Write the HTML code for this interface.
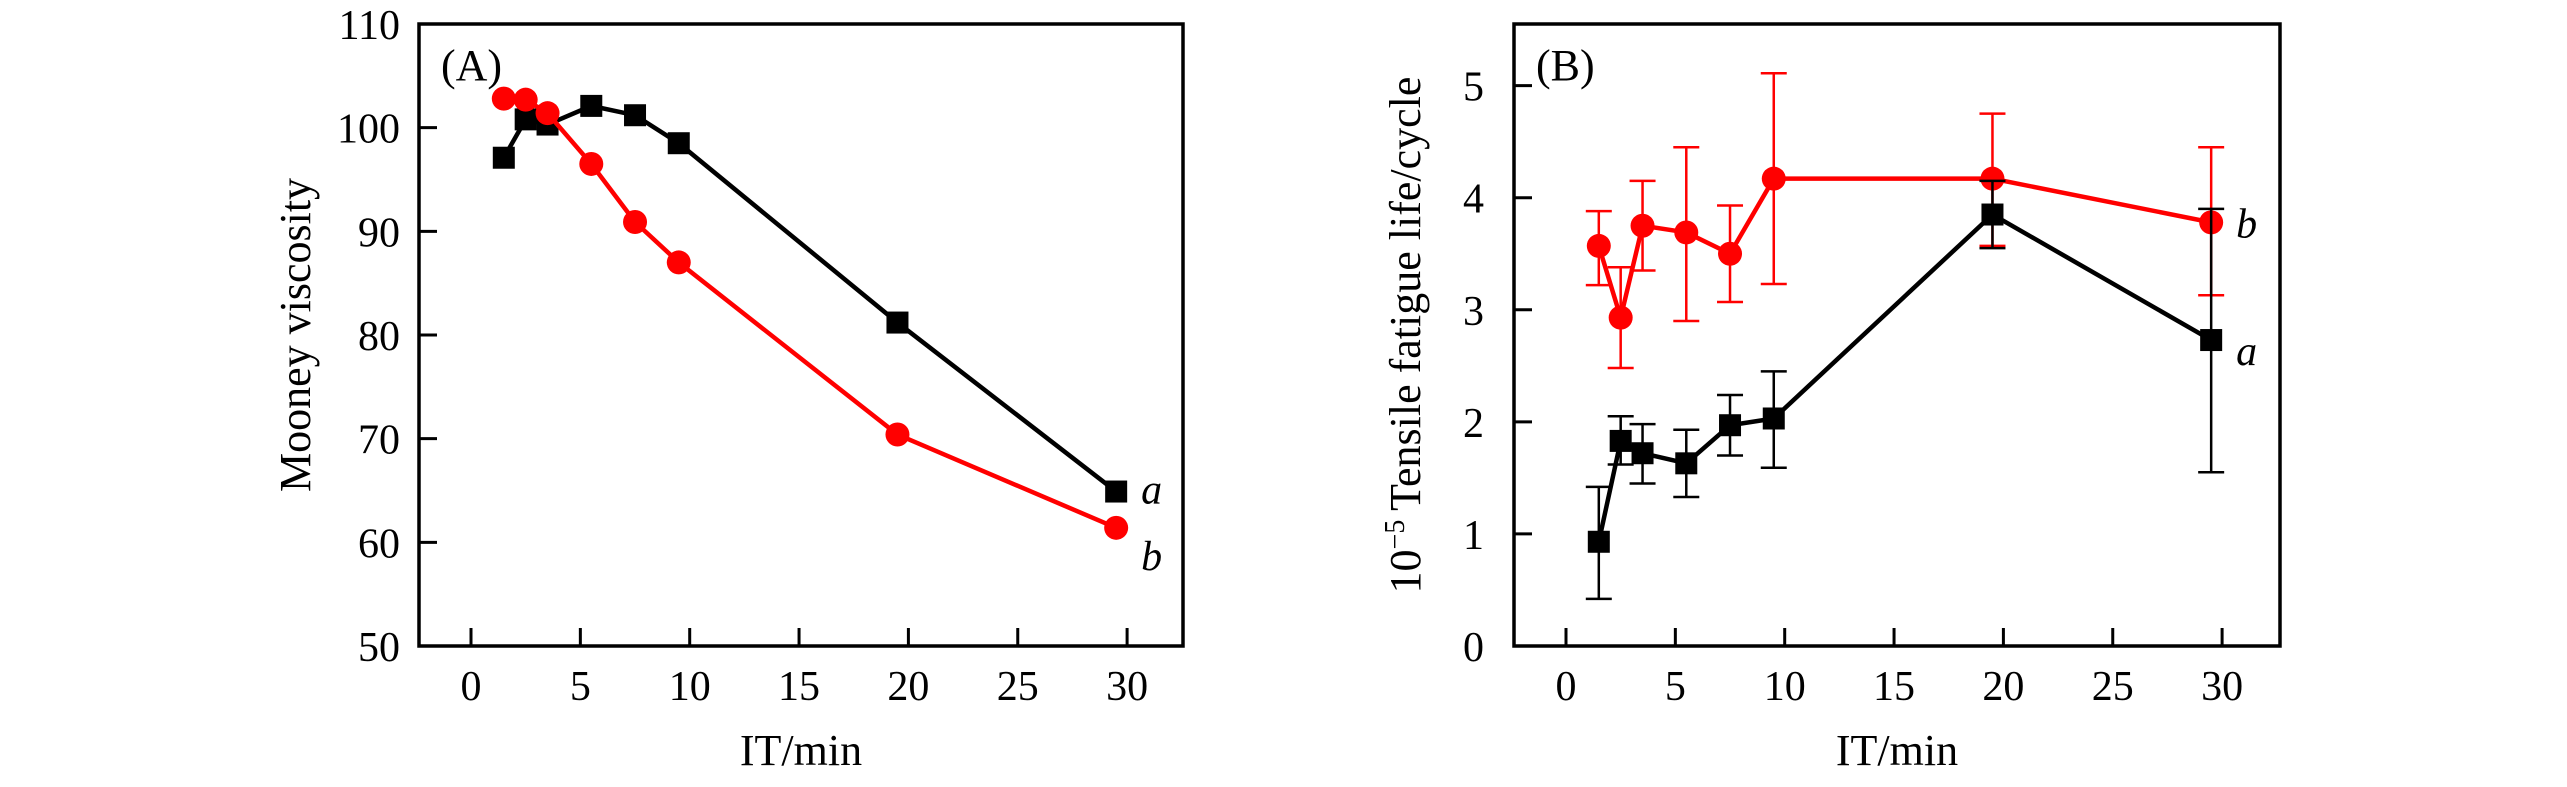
<!DOCTYPE html>
<html><head><meta charset="utf-8"><style>
html,body{margin:0;padding:0;background:#fff;}
svg{display:block;}
text{font-family:"Liberation Serif",serif;fill:#000;}
</style></head><body>
<svg id="chart" width="2567" height="787" viewBox="0 0 2567 787" xmlns="http://www.w3.org/2000/svg"></svg>
<script>
const xValues = [1.5, 2.5, 3.5, 5.5, 7.5, 9.5, 19.5, 29.5];
const xTicks = [0, 5, 10, 15, 20, 25, 30];
const viscA = [97.1, 100.8, 100.3, 102.1, 101.2, 98.5, 81.2, 64.9];
const viscB = [102.8, 102.7, 101.4, 96.5, 90.9, 87.0, 70.4, 61.4];
const yTicksA = [50, 60, 70, 80, 90, 100, 110];
const fatA = [0.93, 1.83, 1.72, 1.63, 1.97, 2.03, 3.85, 2.73];
const fatAlo = [0.42, 1.62, 1.45, 1.33, 1.70, 1.59, 3.55, 1.55];
const fatAhi = [1.42, 2.05, 1.98, 1.93, 2.24, 2.45, 4.15, 3.90];
const fatB = [3.57, 2.93, 3.75, 3.69, 3.50, 4.17, 4.17, 3.78];
const fatBlo = [3.22, 2.48, 3.35, 2.90, 3.07, 3.23, 3.57, 3.13];
const fatBhi = [3.88, 3.38, 4.15, 4.45, 3.93, 5.11, 4.75, 4.45];
const yTicksB = [0, 1, 2, 3, 4, 5];

const NS = "http://www.w3.org/2000/svg";
const svg = document.getElementById('chart');
function mk(tag, attrs, parent, text) {
  const e = document.createElementNS(NS, tag);
  for (const k in attrs) e.setAttribute(k, attrs[k]);
  if (text !== undefined) e.textContent = text;
  (parent || svg).appendChild(e);
  return e;
}

function panel(cfg) {
  const g = mk('g', {});
  
  
  const L = cfg.left, R = cfg.right, T = 24, B = 646;
  const xs = v => cfg.x0 + (v) * 21.87;
  const ys = v => B - (v - cfg.ymin) / (cfg.ymax - cfg.ymin) * (B - T);
  const frame = mk('rect', {x: L, y: T, width: R - L, height: B - T, fill: 'none', stroke: '#000', 'stroke-width': 3.5}, g);
  
  
  xTicks.forEach(t => {
    const x = xs(t);
    const tk = mk('line', {x1: x, x2: x, y1: B, y2: B - 18, stroke: '#000', 'stroke-width': 3}, g);
    
    
    const lb = mk('text', {x: x, y: 700, 'font-size': 42, 'text-anchor': 'middle'}, g, String(t));
    
    
  });
  cfg.yTicks.forEach(t => {
    const y = ys(t);
    if (t !== cfg.ymin && t !== cfg.ymax) {
      const tk = mk('line', {x1: L, x2: L + 18, y1: y, y2: y, stroke: '#000', 'stroke-width': 3}, g);
      
      
    }
    const lb = mk('text', {x: L - cfg.labGap, y: y + 15, 'font-size': 42, 'text-anchor': 'end'}, g, String(t));
    
    
  });
  const xt = mk('text', {x: (L + R) / 2, y: 765, 'font-size': 44, 'text-anchor': 'middle'}, g, 'IT/min');
  
  
  const yt = mk('text', {x: 0, y: 0, 'font-size': 44, 'text-anchor': 'middle', transform: `translate(${cfg.ylabX},335) rotate(-90)`}, g);
  
  
  if (cfg.sup) {
    mk('tspan', {}, yt, '10');
    mk('tspan', {'font-size': 28, dy: -16}, yt, '\u22125');
    mk('tspan', {dy: 16}, yt, '\u2009' + cfg.ylabel);
  } else yt.textContent = cfg.ylabel;
  const pl = mk('text', {x: L + 22, y: 80, 'font-size': 44}, g, cfg.tag);
  
  

  cfg.series.forEach(s => {
    const sg = mk('g', {}, g);
    
    
    if (s.lo) {
      xValues.forEach((xv, i) => {
        const x = xs(xv);
        const eb = mk('path', {d: `M${x},${ys(s.lo[i])}V${ys(s.hi[i])}M${x - 13},${ys(s.lo[i])}h26M${x - 13},${ys(s.hi[i])}h26`, stroke: s.color, 'stroke-width': 2.5, fill: 'none'}, sg);
        
        
      });
    }
    const pts = xValues.map((xv, i) => `${xs(xv)},${ys(s.vals[i])}`).join(' ');
    const ln = mk('polyline', {points: pts, fill: 'none', stroke: s.color, 'stroke-width': 4.5}, sg);
    
    
    xValues.forEach((xv, i) => {
      const x = xs(xv), y = ys(s.vals[i]);
      let m;
      if (s.shape === 'square') m = mk('rect', {x: x - 11, y: y - 11, width: 22, height: 22, fill: s.color}, sg);
      else m = mk('circle', {cx: x, cy: y, r: 12, fill: s.color}, sg);
      
      
    });
    const lx = xs(xValues[xValues.length - 1]) + 25;
    const lab = mk('text', {x: lx, y: ys(s.vals[s.vals.length - 1]) + s.labDy, 'font-size': 42, 'font-style': 'italic'}, sg, s.label);
    
    
  });
}

panel({name: 'panel-a-mooney', left: 419, right: 1183, x0: 471, ymin: 50, ymax: 110, yTicks: yTicksA,
  ylabX: 310, ylabel: 'Mooney viscosity', tag: '(A)', labGap: 19,
  series: [
    {name: 'series-a', vals: viscA, color: '#000', shape: 'square', label: 'a', labDy: 12},
    {name: 'series-b', vals: viscB, color: '#ff0000', shape: 'circle', label: 'b', labDy: 42}
  ]});
panel({name: 'panel-b-fatigue', left: 1514, right: 2280, x0: 1566, ymin: 0, ymax: 5.55, yTicks: yTicksB,
  ylabX: 1420, ylabel: 'Tensile fatigue life/cycle', tag: '(B)', sup: true, labGap: 30,
  series: [
    {name: 'series-b', vals: fatB, lo: fatBlo, hi: fatBhi, color: '#ff0000', shape: 'circle', label: 'b', labDy: 15},
    {name: 'series-a', vals: fatA, lo: fatAlo, hi: fatAhi, color: '#000', shape: 'square', label: 'a', labDy: 25}
  ]});
</script>
</body></html>
